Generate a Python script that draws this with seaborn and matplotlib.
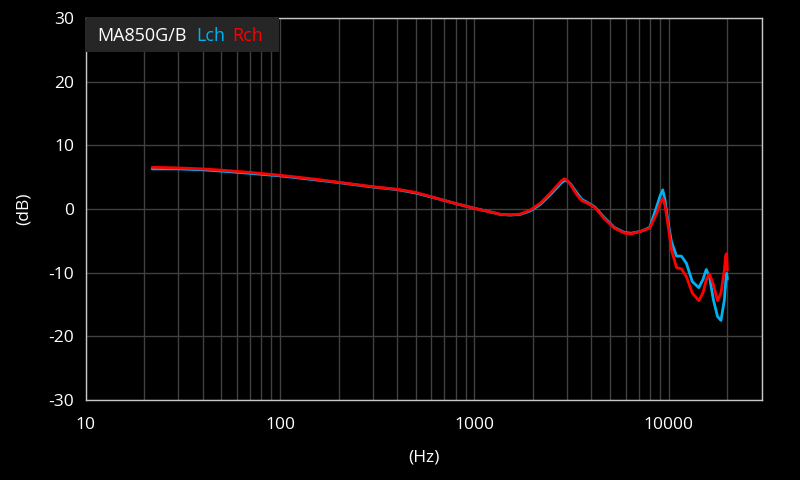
import matplotlib
matplotlib.use("Agg")
import matplotlib.pyplot as plt
import seaborn as sns
import pandas as pd
from matplotlib.patches import Rectangle

freq = [22, 30, 40, 50, 70, 100, 150, 200, 300, 400, 500, 670, 800, 1000, 1200,
        1360, 1530, 1720, 1940, 2180, 2450, 2650, 2800, 2900, 3000, 3110, 3370,
        3570, 3870, 4170, 4640, 5240, 5920, 6410, 7200, 7970, 8660, 9000, 9300,
        9550, 9760, 10000, 10310, 10950, 11600, 12300, 13200, 14250, 14970,
        15580, 16170, 16960, 17800, 18540, 19300, 19600, 19830, 20000]
lch = [6.3, 6.3, 6.15, 5.95, 5.6, 5.2, 4.6, 4.15, 3.45, 3.05, 2.5, 1.5, 0.85, 0.1,
       -0.45, -0.85, -0.95, -0.85, -0.3, 0.7, 2.2, 3.3, 4.1, 4.45, 4.4, 4.0, 2.5,
       1.5, 0.9, 0.3, -1.3, -2.9, -3.7, -3.8, -3.5, -2.9, 0.36, 2.0, 3.0,
       1.5, -0.7, -2.8, -5.1, -7.4, -7.4, -8.5, -11.4, -12.35, -11.1,
       -9.5, -10.6, -14.3, -16.9, -17.5, -14.3, -11.5, -10.1, -11.0]
rch = [6.55, 6.45, 6.3, 6.1, 5.75, 5.3, 4.7, 4.2, 3.5, 3.1, 2.6, 1.5, 0.85, 0.1,
       -0.45, -0.83, -0.94, -0.8, -0.16, 0.9, 2.46, 3.6, 4.4, 4.75, 4.5, 3.9, 2.2,
       1.3, 0.8, 0.2, -1.46, -3.0, -3.8, -3.9, -3.5, -3.0, -0.7, 0.8, 1.7,
       0.6, -1.2, -3.4, -6.4, -9.2, -9.4, -10.6, -13.2, -14.4, -13.2,
       -11.1, -10.2, -11.9, -14.4, -13.2, -9.6, -7.3, -7.0, -9.6]
channels = ["Lch", "Rch"]
title = "MA850G/B"
colors = {"Lch": "#00b0f0", "Rch": "#ff0000"}
yticks = [-30, -20, -10, 0, 10, 20, 30]
xticks = [10, 100, 1000, 10000]

df = pd.concat([
    pd.DataFrame({"Hz": freq, "dB": lch, "ch": "Lch"}),
    pd.DataFrame({"Hz": freq, "dB": rch, "ch": "Rch"}),
])

sns.set_theme(style="dark")
plt.rcParams["font.family"] = ["Open Sans", "DejaVu Sans"]

fig = plt.figure(figsize=(8, 4.8), dpi=100, facecolor="black")
ax = fig.add_axes([0.107, 0.1667, 0.845, 0.7958])
ax.set_facecolor("black")

sns.lineplot(data=df, x="Hz", y="dB", hue="ch", hue_order=channels,
             palette=colors, linewidth=2, ax=ax, legend=False, sort=False)
for line in ax.get_lines():
    line.set_solid_joinstyle("round")

ax.set_xscale("log")
ax.set_xlim(10, 30000)
ax.set_ylim(-30, 30)
ax.set_yticks(yticks)
ax.set_yticklabels([str(v) for v in yticks])
ax.set_xticks(xticks)
ax.set_xticklabels([str(v) for v in xticks])
ax.grid(True, which="major", color="#404040", linewidth=1)
ax.grid(True, which="minor", axis="x", color="#404040", linewidth=1)
ax.tick_params(which="both", length=0, colors="white", labelsize=12.5, pad=8)
ax.tick_params(axis="x", pad=12)
for s in ax.spines.values():
    s.set_color("#c8c8c8")
    s.set_linewidth(1)
    s.set_visible(True)
ax.set_xlabel("(Hz)", color="white", fontsize=12.5, labelpad=12)
ax.set_ylabel("(dB)", color="white", fontsize=12.5, labelpad=12)

ax.add_patch(Rectangle((0, 0.911), 0.286, 0.089, transform=ax.transAxes,
                       facecolor="#262626", edgecolor="none", zorder=5))
ty = 0.953
ax.text(0.0167, ty, title, transform=ax.transAxes, color="white",
        fontsize=13, va="center", ha="left", zorder=6)
ax.text(0.163, ty, "Lch", transform=ax.transAxes, color=colors["Lch"],
        fontsize=13, va="center", ha="left", zorder=6)
ax.text(0.217, ty, "Rch", transform=ax.transAxes, color=colors["Rch"],
        fontsize=13, va="center", ha="left", zorder=6)

fig.savefig("out.png", dpi=100, facecolor="black")
